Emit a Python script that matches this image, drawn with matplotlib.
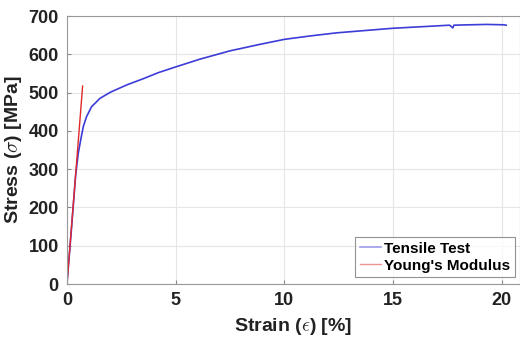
import numpy as np
import matplotlib.pyplot as plt

# tensile test curve
strain = [0.0, 0.2, 0.4, 0.52, 0.63, 0.75, 0.9, 1.13, 1.52, 2.0, 2.75, 3.5, 4.2,
          5.0, 6.1, 7.5, 8.88, 10.0, 11.2, 12.4, 13.7, 15.0, 16.3, 17.6, 17.75,
          17.8, 18.5, 19.3, 20.1, 20.2]
stress = [0.0, 140, 285, 342, 376, 411, 437, 463, 485, 501, 520, 536, 552,
          567, 587, 609, 626, 639, 648, 656, 662, 668, 672, 676, 669,
          676, 677, 678, 677, 676]

# Young's modulus line
ym_strain = [0.0, 0.72]
ym_stress = [0.0, 517]

xticks = [0, 5, 10, 15, 20]
yticks = [0, 100, 200, 300, 400, 500, 600, 700]

plt.rcParams['font.family'] = ['Liberation Sans', 'DejaVu Sans']
plt.rcParams['font.weight'] = 'bold'
plt.rcParams['mathtext.fontset'] = 'cm'

fig = plt.figure(figsize=(5.2, 3.39), dpi=100)
ax = fig.add_axes([0.1288, 0.1622, 0.8712, 0.7906])

ax.plot(strain, stress, color='#3c3cd8', lw=1.2, label='Tensile Test')
ax.plot(ym_strain, ym_stress, color='#e02828', lw=1.0, label="Young's Modulus")

ax.set_xlim(0, 20.84)
ax.set_ylim(0, 700)
ax.set_xticks(xticks)
ax.set_yticks(yticks)
ax.tick_params(direction='in', length=3, colors='#888888', labelcolor='#222222',
               labelsize=13, pad=6)
for lbl in ax.get_xticklabels() + ax.get_yticklabels():
    lbl.set_fontweight('bold')
ax.grid(True, color='#e6e6e6', lw=0.8)
ax.set_axisbelow(True)
for s in ax.spines.values():
    s.set_color('#999999')
    s.set_linewidth(0.8)

ax.set_xlabel(r'Strain ($\epsilon$) [%]', fontsize=14, fontweight='bold', color='#222222', labelpad=5)
ax.set_ylabel(r'Stress ($\sigma$) [MPa]', fontsize=14, fontweight='bold', color='#222222', labelpad=3)

leg = ax.legend(loc='lower right', bbox_to_anchor=(0.989, 0.025), fontsize=11,
                frameon=True, fancybox=False, handlelength=1.4, handletextpad=0.2,
                borderpad=0.3, labelspacing=0.2, borderaxespad=0)
leg.get_frame().set_edgecolor('#777777')
leg.get_frame().set_linewidth(0.8)
for t in leg.get_texts():
    t.set_fontweight('bold')
for h in leg.get_lines():
    h.set_alpha(0.5)

fig.savefig('out.png', dpi=100)
